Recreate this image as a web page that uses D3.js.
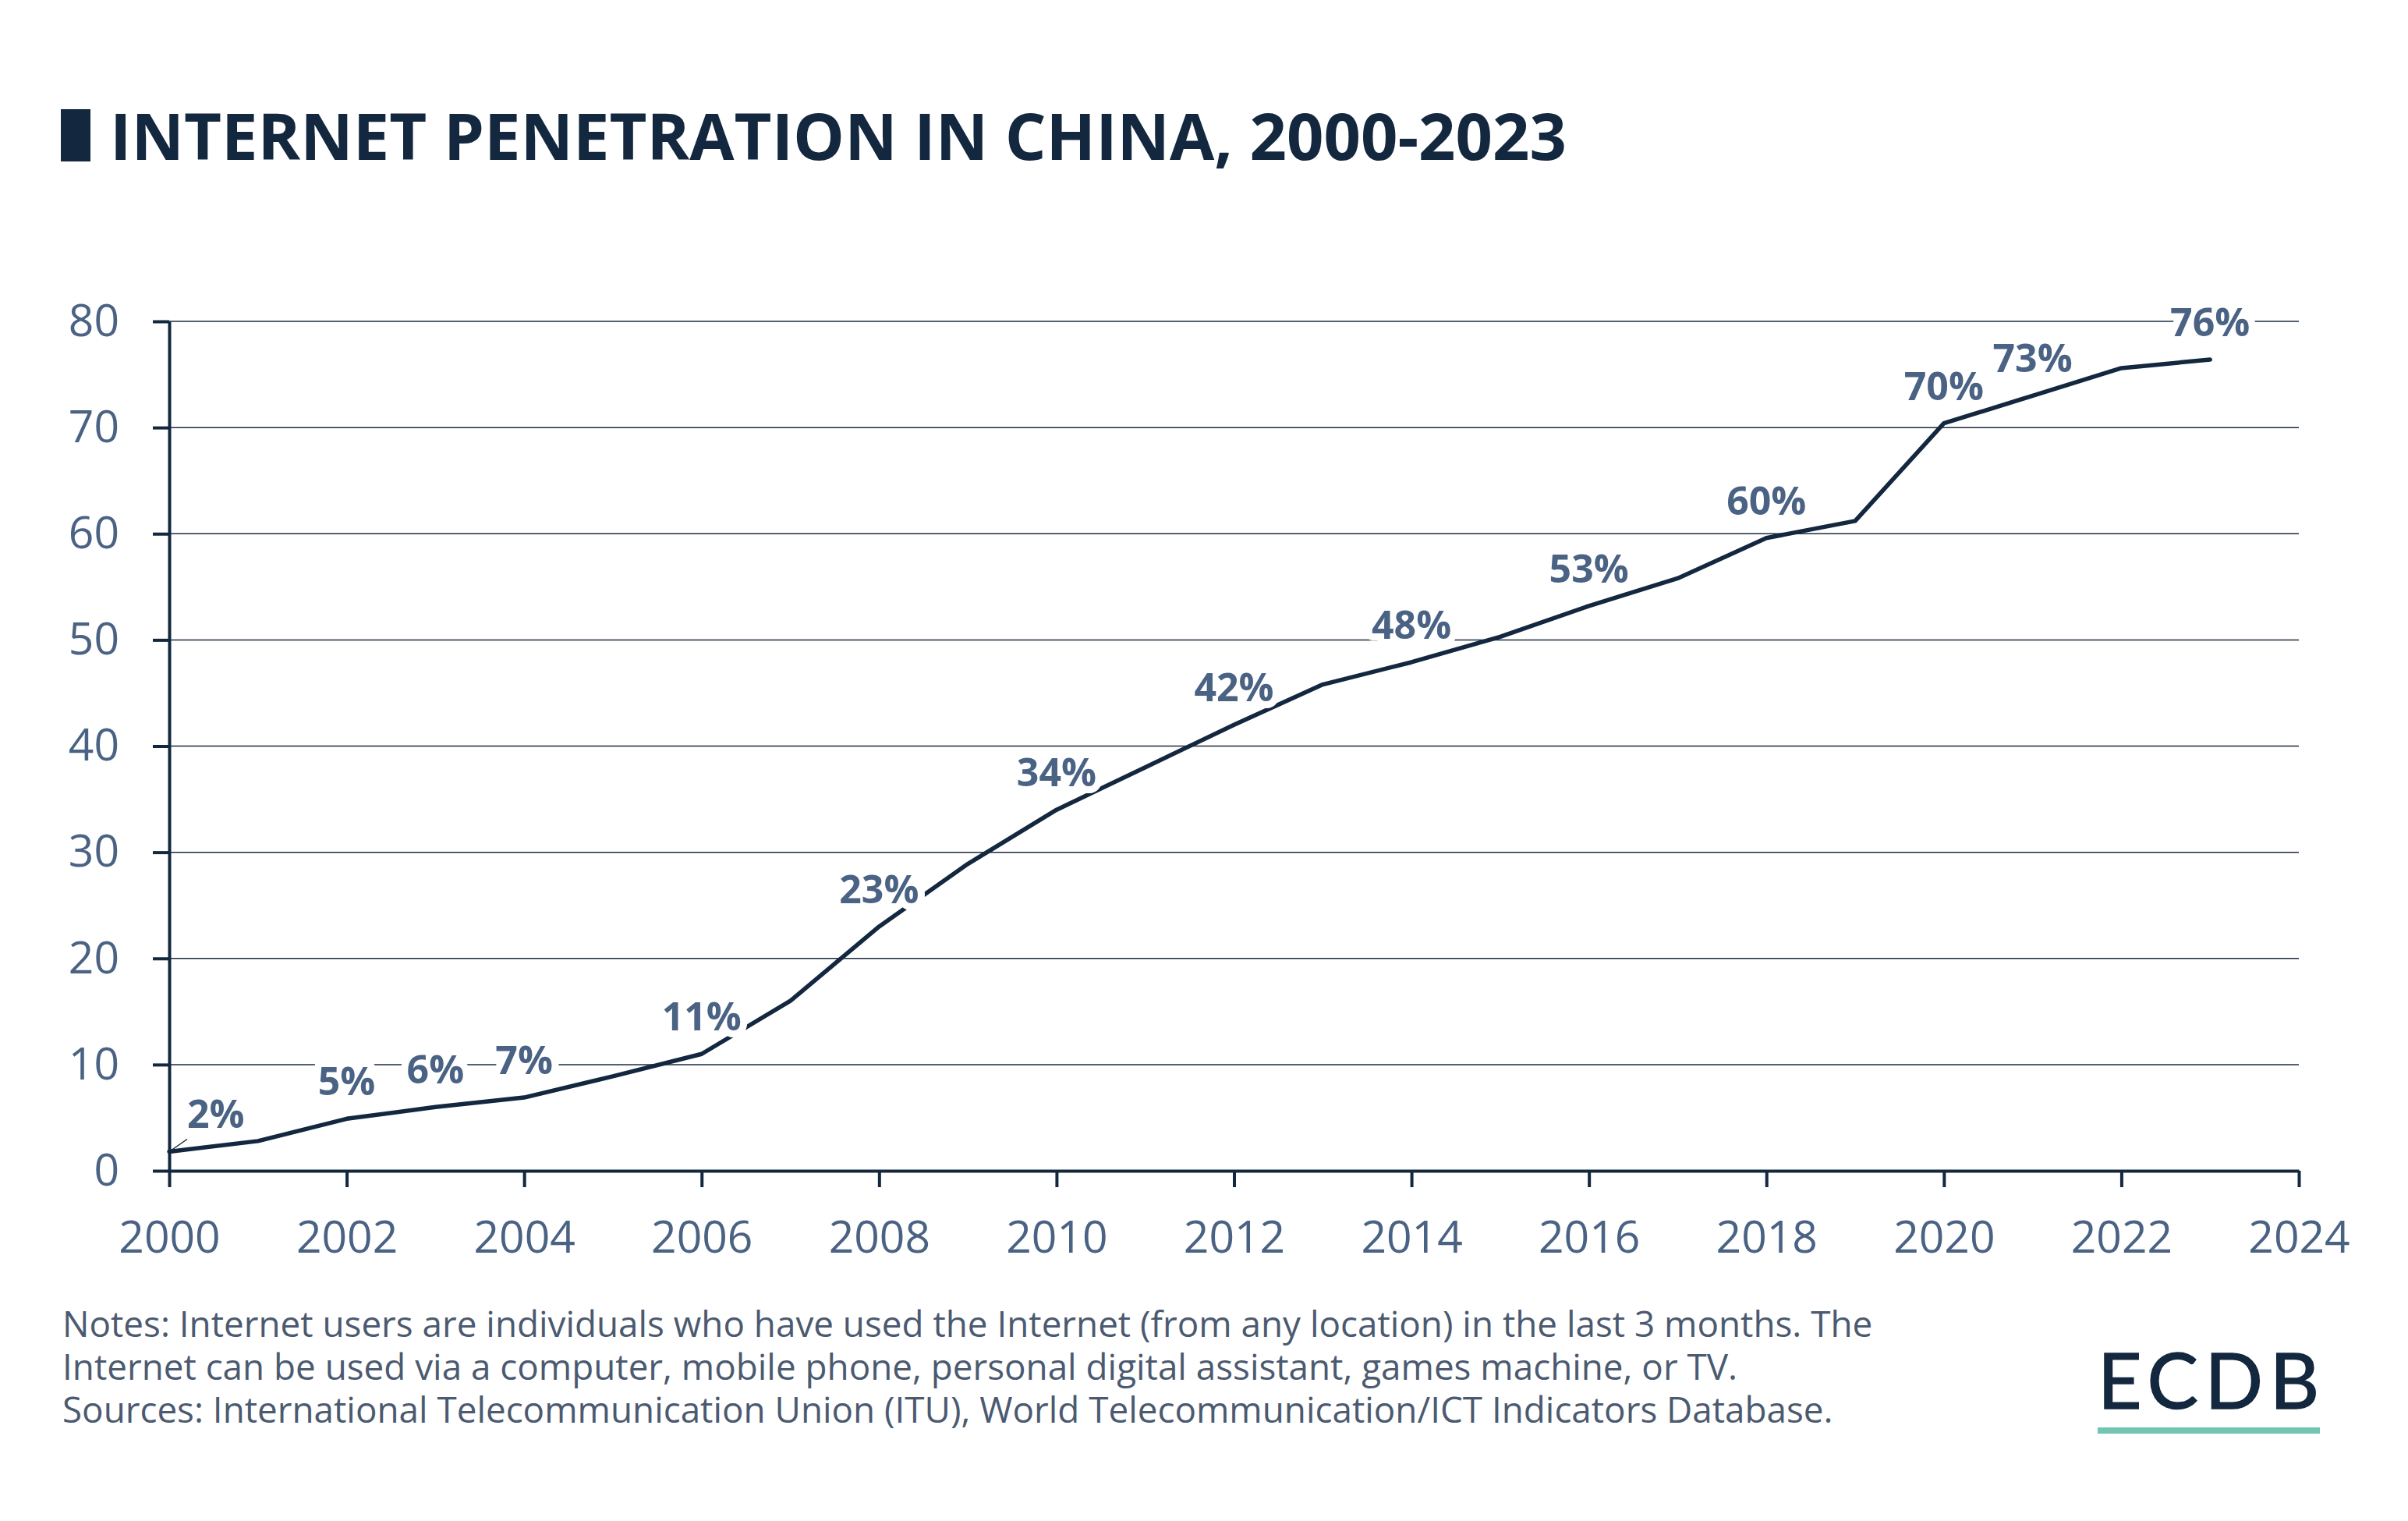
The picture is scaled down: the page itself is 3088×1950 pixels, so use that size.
<!DOCTYPE html>
<html>
<head>
<meta charset="utf-8">
<script src="https://cdn.jsdelivr.net/npm/d3@7"></script>
<style>
  html, body { margin: 0; padding: 0; background: #ffffff; }
  svg { display: block; }
</style>
</head>
<body>
<svg id="chart" width="3088" height="1950"></svg>
<script>
// ---- data ----
const years = [2000, 2001, 2002, 2003, 2004, 2005, 2006, 2007, 2008, 2009, 2010, 2011,
               2012, 2013, 2014, 2015, 2016, 2017, 2018, 2019, 2020, 2021, 2022, 2023];
const penetration = [1.8, 2.8, 4.9, 6.0, 6.9, 8.9, 11.0, 16.0, 23.0, 28.9, 34.0, 38.0,
                     42.0, 45.8, 47.9, 50.3, 53.2, 55.8, 59.6, 61.2, 70.4, 73.0, 75.6, 76.4];
const labelYears = [2000, 2002, 2003, 2004, 2006, 2008, 2010, 2012, 2014, 2016, 2018, 2020, 2021, 2023];
const yTicks = [0, 10, 20, 30, 40, 50, 60, 70, 80];
const xTicks = [2000, 2002, 2004, 2006, 2008, 2010, 2012, 2014, 2016, 2018, 2020, 2022, 2024];
const titleText = "INTERNET PENETRATION IN CHINA, 2000-2023";
const noteLines = [
  "Notes: Internet users are individuals who have used the Internet (from any location) in the last 3 months. The",
  "Internet can be used via a computer, mobile phone, personal digital assistant, games machine, or TV.",
  "Sources: International Telecommunication Union (ITU), World Telecommunication/ICT Indicators Database."
];

// ---- styles ----
const NAVY = "#13273f";
const SLATE = "#4a6283";
const FONT = "'Open Sans', 'Noto Sans', sans-serif";

const svg = d3.select("#chart");

// Title
svg.append("rect").attr("x", 78).attr("y", 140).attr("width", 38).attr("height", 67).attr("fill", NAVY);
svg.append("text").attr("x", 141).attr("y", 205)
  .attr("font-family", FONT).attr("font-weight", 700).attr("font-size", 83)
  .attr("fill", NAVY).text(titleText);

// Scales
const x = d3.scaleLinear().domain([2000, 2024]).range([217, 2948]);
const y = d3.scaleLinear().domain([0, 80]).range([1501, 412]);

// Gridlines
svg.append("g").selectAll("line").data(yTicks.filter(d => d > 0)).join("line")
  .attr("x1", x(2000)).attr("x2", x(2024))
  .attr("y1", d => y(d)).attr("y2", d => y(d))
  .attr("stroke", "#1d2c40").attr("stroke-width", 1.5);

// Y axis
const yAxis = svg.append("g").attr("transform", `translate(${x(2000)},0)`)
  .call(d3.axisLeft(y).tickValues(yTicks).tickSize(21).tickSizeOuter(0).tickPadding(43));
yAxis.select(".domain").attr("stroke", NAVY).attr("stroke-width", 4);
yAxis.selectAll(".tick line").attr("stroke", NAVY).attr("stroke-width", 4);
yAxis.selectAll(".tick text").attr("font-family", FONT).attr("font-size", 57).attr("fill", SLATE);

// X axis
const xAxis = svg.append("g").attr("transform", `translate(0,${y(0)})`)
  .call(d3.axisBottom(x).tickValues(xTicks).tickFormat(d3.format("d")).tickSize(21).tickSizeOuter(0).tickPadding(44));
xAxis.select(".domain").attr("stroke", NAVY).attr("stroke-width", 4);
xAxis.selectAll(".tick line").attr("stroke", NAVY).attr("stroke-width", 4);
xAxis.selectAll(".tick text").attr("font-family", FONT).attr("font-size", 57).attr("fill", SLATE);

// Line
const series = years.map((yr, i) => ({ year: yr, value: penetration[i] }));
const line = d3.line().x(d => x(d.year)).y(d => y(d.value));
svg.append("path").datum(series)
  .attr("d", line).attr("fill", "none")
  .attr("stroke", NAVY).attr("stroke-width", 5.5)
  .attr("stroke-linejoin", "round").attr("stroke-linecap", "round");

// Labels
const labelled = series.filter(d => labelYears.includes(d.year));
const first = labelled[0];
svg.append("line")
  .attr("x1", x(first.year)).attr("y1", y(first.value))
  .attr("x2", x(first.year) + 23).attr("y2", y(first.value) - 16)
  .attr("stroke", NAVY).attr("stroke-width", 1.5);

svg.append("g").selectAll("text").data(labelled).join("text")
  .attr("x", d => d.year === 2000 ? x(d.year) + 23 : x(d.year))
  .attr("y", d => y(d.value) - 30)
  .attr("text-anchor", d => d.year === 2000 ? "start" : "middle")
  .attr("font-family", FONT).attr("font-weight", 700).attr("font-size", 50)
  .attr("fill", SLATE)
  .attr("stroke", "#ffffff").attr("stroke-width", 18).attr("stroke-linejoin", "round")
  .attr("paint-order", "stroke")
  .text(d => Math.round(d.value) + "%");

// Footer notes
svg.append("g").selectAll("text").data(noteLines).join("text")
  .attr("x", 80).attr("y", (d, i) => 1714 + i * 55)
  .attr("font-family", FONT).attr("font-size", 45.8).attr("fill", "#4b5a70")
  .text(d => d);

// Logo
svg.append("text").attr("x", 2690).attr("y", 1806)
  .attr("font-family", "Lato, 'Open Sans', sans-serif").attr("font-weight", 400).attr("font-size", 98)
  .attr("fill", NAVY).attr("stroke", NAVY).attr("stroke-width", 1.5)
  .attr("textLength", 284).attr("lengthAdjust", "spacing")
  .text("ECDB");
svg.append("rect").attr("x", 2690).attr("y", 1830).attr("width", 285).attr("height", 8).attr("fill", "#72c5b2");
</script>
</body>
</html>
